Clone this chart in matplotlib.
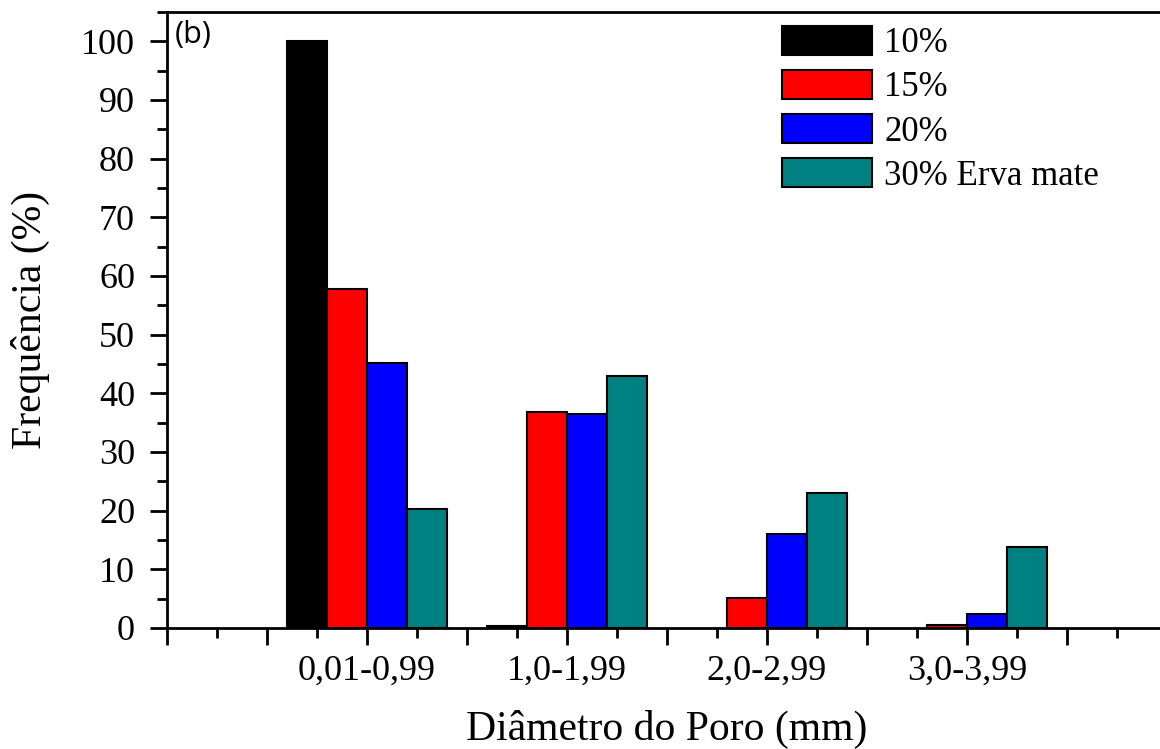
import matplotlib
matplotlib.use("Agg")
import matplotlib.pyplot as plt
from matplotlib.ticker import MultipleLocator, FixedLocator, FixedFormatter
import numpy as np

# data
categories = ["0,01-0,99", "1,0-1,99", "2,0-2,99", "3,0-3,99"]
series_names = ["10%", "15%", "20%", "30% Erva mate"]
freq_10 = [100.0, 0.3, 0.0, 0.0]
freq_15 = [57.7, 36.8, 5.1, 0.5]
freq_20 = [45.2, 36.5, 16.0, 2.4]
freq_30 = [20.3, 43.0, 23.0, 13.8]
colors = ["#000000", "#FF0000", "#0000FF", "#008080"]

plt.rcParams['font.family'] = ['Liberation Serif', 'DejaVu Serif']


def main():
    fig = plt.figure(figsize=(11.6, 7.49), dpi=100)
    ax = fig.add_axes([167 / 1160, 1 - 628 / 749, 1000 / 1160, 616 / 749])

    x = np.arange(1, len(categories) + 1)
    width = 0.2
    offsets = [-0.3, -0.1, 0.1, 0.3]
    for vals, name, col, off in zip([freq_10, freq_15, freq_20, freq_30],
                                    series_names, colors, offsets):
        bars = ax.bar(x + off, vals, width, color=col, edgecolor="black",
                      linewidth=1.5, label=name)
        # empty classes show no outline in the original
        for b, v in zip(bars, vals):
            if v == 0:
                b.set_linewidth(0)

    ax.set_xlim(0, 5)
    ax.set_ylim(0, 105)

    majors = np.arange(0, 5.01, 0.5)
    labels = [categories[int(v) - 1] if (v == int(v) and 1 <= v <= 4) else "" for v in majors]
    ax.xaxis.set_major_locator(FixedLocator(majors))
    ax.xaxis.set_major_formatter(FixedFormatter(labels))
    ax.xaxis.set_minor_locator(MultipleLocator(0.25))
    ax.yaxis.set_major_locator(MultipleLocator(10))
    ax.yaxis.set_minor_locator(MultipleLocator(5))

    ax.tick_params(which="major", direction="out", length=12, width=2, labelsize=26)
    ax.tick_params(which="minor", direction="out", length=7, width=2)
    ax.tick_params(axis="x", which="major", pad=7)
    ax.tick_params(axis="y", which="major", pad=11)

    for s in ax.spines.values():
        s.set_linewidth(2)

    ax.set_xlabel("Diâmetro do Poro (mm)", fontsize=30, labelpad=16)
    ax.set_ylabel("Frequência (%)", fontsize=30, labelpad=22)

    ax.text(0.008, 0.987, "(b)", transform=ax.transAxes, fontsize=22,
            family=["Open Sans", "DejaVu Sans"], va="top", ha="left")

    ax.legend(loc="upper left", bbox_to_anchor=(782 / 1160, 1 - 26 / 749),
              bbox_transform=fig.transFigure, frameon=False, fontsize=25,
              handlelength=2.6, handleheight=0.9, handletextpad=0.35,
              labelspacing=0.28, borderpad=0, borderaxespad=0)

    fig.savefig("out.png", dpi=100)


if __name__ == "__main__":
    main()
